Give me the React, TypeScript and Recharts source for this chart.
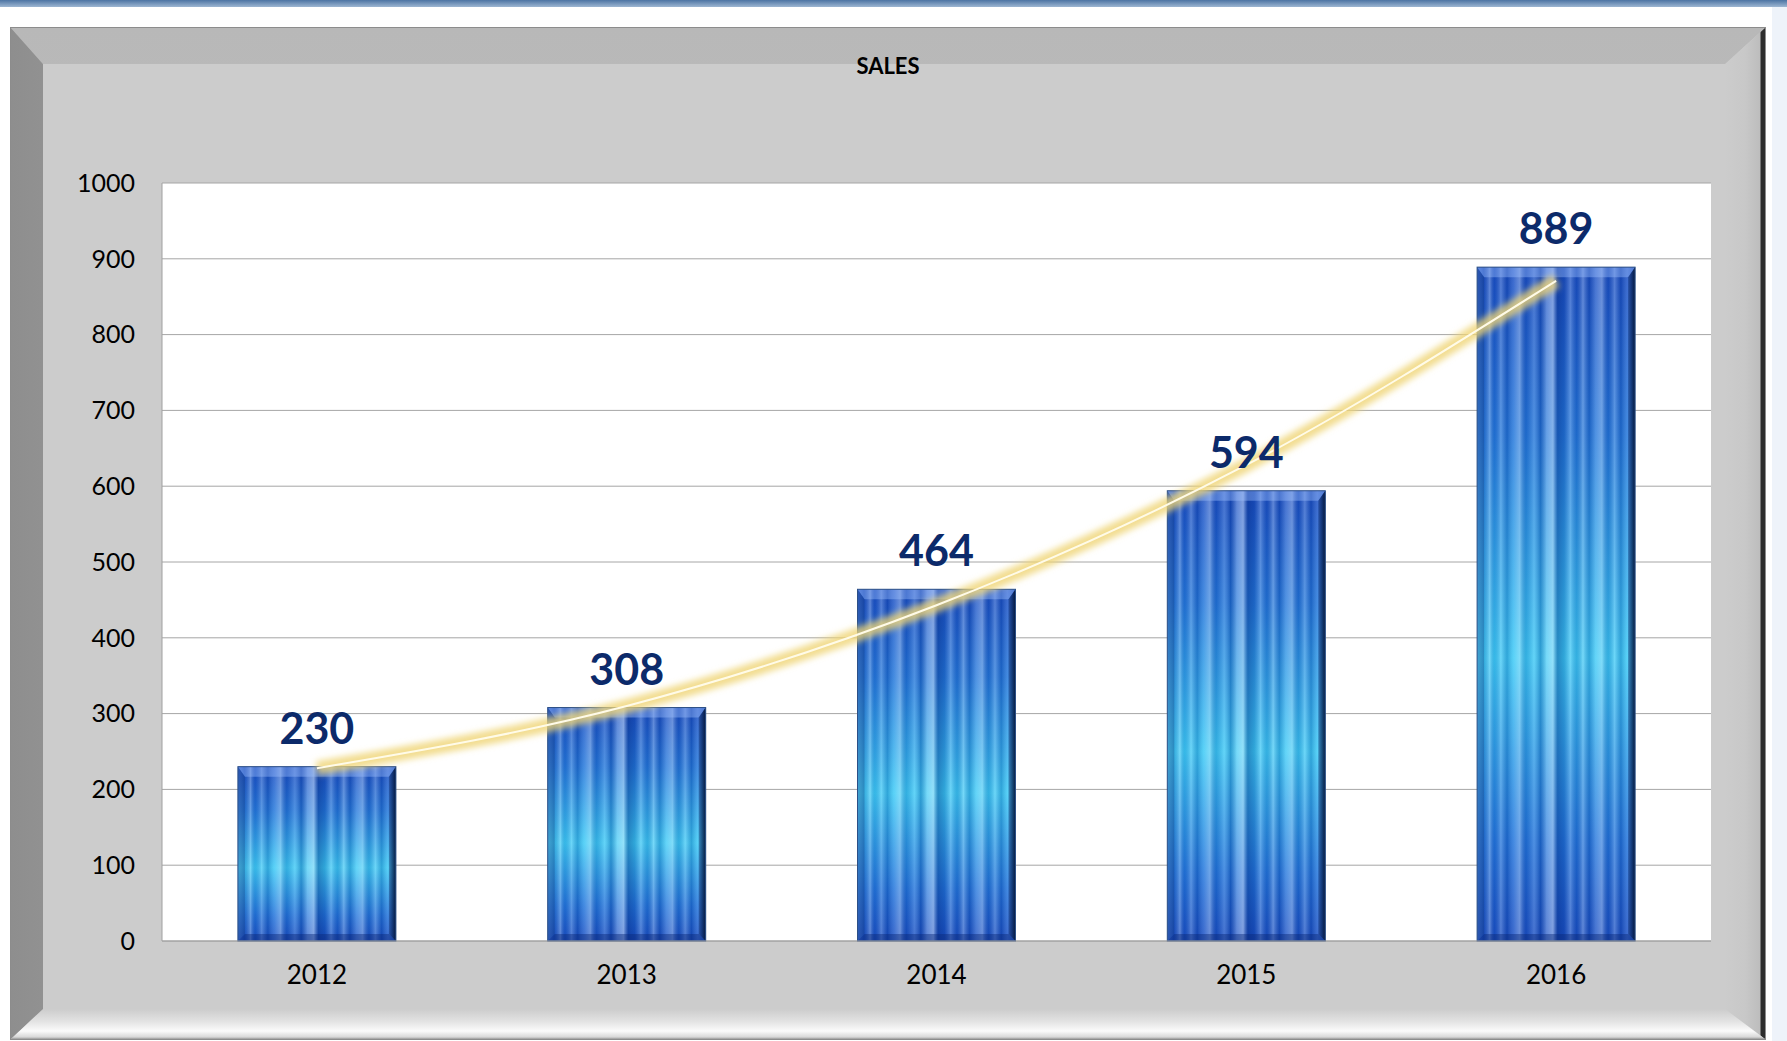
import { ComposedChart, Bar, Line, XAxis, YAxis, CartesianGrid, LabelList } from "recharts";

const years = ["2012", "2013", "2014", "2015", "2016"];
const sales = [230, 308, 464, 594, 889];
// trendline at each year
const trend = [228, 310, 443, 628, 871];
const yTicks = [0, 100, 200, 300, 400, 500, 600, 700, 800, 900, 1000];

const data = years.map((year, i) => ({ year, sales: sales[i], trend: trend[i] }));

const FONT = "Lato, 'Open Sans', sans-serif";

// stripe pattern across each bar (offset %, colour, opacity)
const STRIPES: [number, string, number][] = [
  [0, "#ffffff", 0.1], [4, "#001a66", 0.15], [8, "#ffffff", 0.3], [11, "#001a66", 0.1],
  [15, "#ffffff", 0.25], [19, "#001a66", 0.2], [23, "#ffffff", 0.15], [27, "#ffffff", 0.35],
  [31, "#001a66", 0.15], [36, "#ffffff", 0.2], [40, "#001a66", 0.25], [44, "#ffffff", 0.3],
  [48, "#ffffff", 0.45], [51, "#001a66", 0.35], [55, "#001a66", 0.2], [59, "#ffffff", 0.25],
  [63, "#001a66", 0.15], [67, "#ffffff", 0.3], [71, "#001a66", 0.2], [75, "#ffffff", 0.2],
  [79, "#ffffff", 0.35], [83, "#001a66", 0.15], [87, "#ffffff", 0.25], [91, "#001a66", 0.2],
  [95, "#ffffff", 0.15], [100, "#001a66", 0.2],
];

const BarShape = (props: any) => {
  const { x, y, width, height } = props;
  if (!height || height <= 0) return null;
  const b = 7;
  return (
    <g>
      <rect x={x} y={y} width={width} height={height} fill="url(#barV)" />
      <rect x={x} y={y} width={width} height={height} fill="url(#stripes)" />
      {/* top bevel */}
      <polygon points={`${x},${y} ${x + width},${y} ${x + width - b},${y + b + 3} ${x + b},${y + b + 3}`} fill="#9fc4ff" fillOpacity={0.4} />
      {/* right edge */}
      <polygon points={`${x + width},${y} ${x + width},${y + height} ${x + width - b},${y + height - b} ${x + width - b},${y + b + 3}`} fill="url(#edgeR)" />
      {/* left edge */}
      <polygon points={`${x},${y} ${x + b},${y + b + 3} ${x + b},${y + height - b} ${x},${y + height}`} fill="#1d3f7a" fillOpacity={0.3} />
      {/* bottom bevel */}
      <polygon points={`${x},${y + height} ${x + width},${y + height} ${x + width - b},${y + height - b} ${x + b},${y + height - b}`} fill="#0a2a7a" fillOpacity={0.45} />
      <rect x={x} y={y} width={width} height={height} fill="none" stroke="#2c4f86" strokeWidth={1} />
    </g>
  );
};

const W = 1754;
const H = 1011;

export default function App() {
  return (
    <div style={{ position: "absolute", left: 0, top: 0, width: 1787, height: 1041, background: "#ffffff", overflow: "hidden" }}>
      <div style={{ position: "absolute", left: 0, top: 0, width: 1787, height: 7, background: "linear-gradient(#4c74a3, #9db6d2)" }} />
      <div style={{ position: "absolute", left: 1772, top: 7, width: 15, height: 1034, background: "#eef3fa" }} />
      {/* beveled frame */}
      <div style={{ position: "absolute", left: 11, top: 28, width: W, height: H, background: "#cccccc", boxShadow: "0 0 0 1px #8c8c8c" }}>
        <div style={{ position: "absolute", inset: 0, clipPath: `polygon(0 0, ${W}px 0, ${W - 40}px 36px, 32px 36px)`, background: "linear-gradient(#b8b8b8, #c2c2c2 50%, #cccccc)" }} />
        <div style={{ position: "absolute", inset: 0, clipPath: `polygon(0 0, 32px 36px, 32px ${H - 30}px, 0 ${H}px)`, background: "linear-gradient(90deg, #8e8e8e, #a8a8a8 15%, #c0c0c0 50%, #cccccc)" }} />
        <div style={{ position: "absolute", inset: 0, clipPath: `polygon(${W}px 0, ${W}px ${H}px, ${W - 40}px ${H - 30}px, ${W - 40}px 36px)`, background: `linear-gradient(90deg, rgba(0,0,0,0) ${W - 40}px, #c8c8c8 ${W - 20}px, #bdbdbd ${W - 5}px, #2d2d2d ${W - 4}px)` }} />
        <div style={{ position: "absolute", inset: 0, clipPath: `polygon(0 ${H}px, 32px ${H - 30}px, ${W - 40}px ${H - 30}px, ${W}px ${H}px)`, background: `linear-gradient(rgba(0,0,0,0) ${H - 30}px, #e2e2e2 ${H - 18}px, #fbfbfb ${H - 8}px, #d8d8d8 ${H - 2}px, #9a9a9a ${H}px)` }} />
      </div>
      <div style={{ position: "absolute", left: 0, top: 52, width: 1776, textAlign: "center", fontFamily: FONT, fontWeight: 700, fontSize: 22, color: "#000" }}>
        SALES
      </div>
      <div style={{ position: "absolute", left: 0, top: 0 }}>
        <ComposedChart width={1787} height={1041} data={data} margin={{ top: 183, right: 76, bottom: 60, left: 0 }} barCategoryGap="24.5%">
          <defs>
            <linearGradient id="barV" x1="0" y1="0" x2="0" y2="1">
              <stop offset="0%" stopColor="#1b4fc4" />
              <stop offset="25%" stopColor="#2377db" />
              <stop offset="58%" stopColor="#3ccaf6" />
              <stop offset="85%" stopColor="#2275dc" />
              <stop offset="100%" stopColor="#1a4fc4" />
            </linearGradient>
            <linearGradient id="stripes" x1="0" y1="0" x2="1" y2="0">
              {STRIPES.map(([o, c, op], i) => (
                <stop key={i} offset={`${o}%`} stopColor={c} stopOpacity={op} />
              ))}
            </linearGradient>
            <linearGradient id="edgeR" x1="0" y1="0" x2="1" y2="0">
              <stop offset="0%" stopColor="#0b2a6a" stopOpacity={0.4} />
              <stop offset="100%" stopColor="#061838" stopOpacity={0.95} />
            </linearGradient>
            <filter id="glow" x="-10%" y="-10%" width="120%" height="120%">
              <feGaussianBlur stdDeviation="3" />
            </filter>
          </defs>
          <CartesianGrid vertical={false} stroke="#a6a6a6" fill="#ffffff" fillOpacity={1} />
          <XAxis
            dataKey="year"
            height={40}
            axisLine={{ stroke: "#a0a0a0" }}
            tickLine={false}
            tickSize={0}
            tickMargin={25}
            tick={{ fill: "#000", fontSize: 26, fontFamily: FONT }}
          />
          <YAxis
            width={162}
            domain={[0, 1000]}
            ticks={yTicks}
            interval={0}
            axisLine={{ stroke: "#a0a0a0" }}
            tickLine={false}
            tickSize={0}
            tickMargin={27}
            tick={{ fill: "#000", fontSize: 25, fontFamily: FONT }}
          />
          <Bar dataKey="sales" shape={<BarShape />} isAnimationActive={false}>
            <LabelList dataKey="sales" position="top" offset={23} fill="#0c2a6a" fontSize={43} fontWeight={700} fontFamily={FONT} />
          </Bar>
          <Line
            dataKey="trend"
            type="monotone"
            stroke="#efd574"
            strokeOpacity={0.8}
            strokeWidth={14}
            dot={false}
            activeDot={false}
            filter="url(#glow)"
            isAnimationActive={false}
          />
          <Line
            dataKey="trend"
            type="monotone"
            stroke="#fffbe8"
            strokeWidth={2}
            dot={false}
            activeDot={false}
            isAnimationActive={false}
          />
        </ComposedChart>
      </div>
    </div>
  );
}
